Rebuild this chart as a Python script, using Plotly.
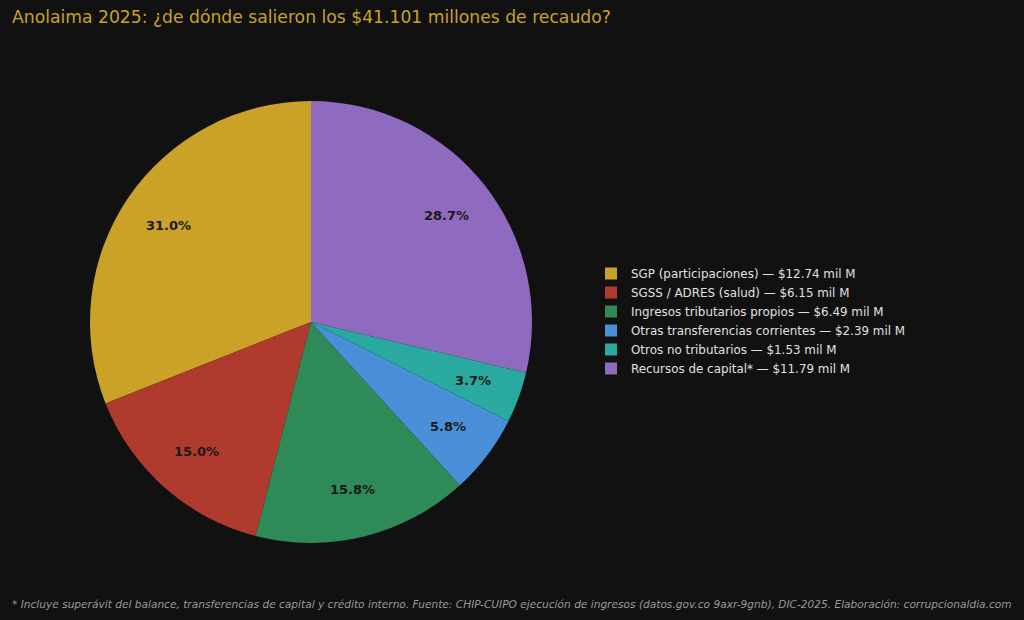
import math
import plotly.graph_objects as go

categories = [
    "SGP (participaciones)",
    "SGSS / ADRES (salud)",
    "Ingresos tributarios propios",
    "Otras transferencias corrientes",
    "Otros no tributarios",
    "Recursos de capital*",
]
values_mil_m = [12.74, 6.15, 6.49, 2.39, 1.53, 11.79]
colors = ["#C9A227", "#B03A2E", "#2E8B57", "#4A90D9", "#2AA9A0", "#8E6BBF"]

W, H = 1024, 620
cx, cy, R = 311, 322, 221
pct_dist = 0.78

legend_labels = [f"{c} — ${v:.2f} mil M" for c, v in zip(categories, values_mil_m)]
total = sum(values_mil_m)

fig = go.Figure()
fig.add_trace(go.Pie(
    labels=legend_labels,
    values=values_mil_m,
    marker=dict(colors=colors, line=dict(width=0)),
    sort=False,
    direction="counterclockwise",
    rotation=-values_mil_m[0] / total * 360,
    textinfo="none",
    hoverinfo="label+percent",
    domain=dict(x=[(cx - R) / W, (cx + R) / W], y=[1 - (cy + R) / H, 1 - (cy - R) / H]),
))

cum = 0.0
annotations = []
for v in values_mil_m:
    mid = cum + v / 2
    cum += v
    theta = math.radians(90 + mid / total * 360)
    xp = cx + pct_dist * R * math.cos(theta)
    yp = cy - pct_dist * R * math.sin(theta)
    annotations.append(dict(
        x=xp / W, y=1 - yp / H, xref="paper", yref="paper",
        text=f"<b>{v / total * 100:.1f}%</b>", showarrow=False,
        font=dict(family="DejaVu Sans", size=13, color="#1a1a1a"),
        xanchor="center", yanchor="middle",
    ))

annotations.append(dict(
    x=10 / W, y=1 - 604 / H, xref="paper", yref="paper",
    text="<i>* Incluye superávit del balance, transferencias de capital y crédito interno. Fuente: CHIP-CUIPO ejecución de ingresos (datos.gov.co 9axr-9gnb), DIC-2025. Elaboración: corrupcionaldia.com</i>",
    showarrow=False, xanchor="left", yanchor="middle",
    font=dict(family="DejaVu Sans", size=10.6, color="#9a9a9a"),
))

fig.update_layout(
    width=W, height=H,
    paper_bgcolor="#111111", plot_bgcolor="#111111",
    margin=dict(l=0, r=0, t=0, b=0),
    title=dict(
        text="Anolaima 2025: ¿de dónde salieron los $41.101 millones de recaudo?",
        x=12 / W, xanchor="left", y=1 - 17 / H, yanchor="middle",
        font=dict(family="DejaVu Sans", size=17.2, color="#C9A227"),
    ),
    legend=dict(
        x=591 / W, xanchor="left", y=1 - 321 / H, yanchor="middle",
        font=dict(family="DejaVu Sans", size=11.9, color="#e0e0e0"),
        bgcolor="rgba(0,0,0,0)",
    ),
    annotations=annotations,
    font=dict(family="DejaVu Sans"),
)

fig.write_html(
    "out.html",
    config={"displayModeBar": False},
    post_script="document.body.style.margin='0';document.body.style.background='#111111';document.body.style.overflow='hidden';",
)
